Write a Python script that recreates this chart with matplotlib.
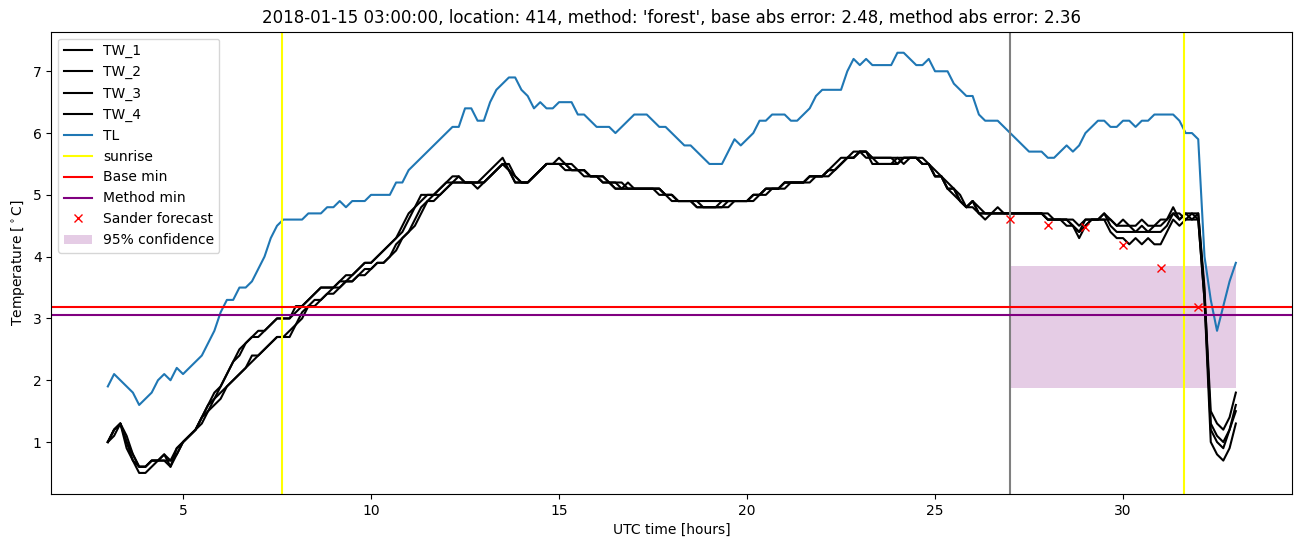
import numpy as np
import matplotlib
matplotlib.use("Agg")
import matplotlib.pyplot as plt

# time grid: 10-minute steps from 03:00 to 33:00 (hours after base date)
hours = 3 + np.arange(181) / 6.0

TL = [1.9, 2.1, 2.0, 1.9, 1.8, 1.6, 1.7, 1.8, 2.0, 2.1, 2.0, 2.2,
      2.1, 2.2, 2.3, 2.4, 2.6, 2.8, 3.1, 3.3, 3.3, 3.5, 3.5, 3.6,
      3.8, 4.0, 4.3, 4.5, 4.6, 4.6, 4.6, 4.6, 4.7, 4.7, 4.7, 4.8,
      4.8, 4.9, 4.8, 4.9, 4.9, 4.9, 5.0, 5.0, 5.0, 5.0, 5.2, 5.2,
      5.4, 5.5, 5.6, 5.7, 5.8, 5.9, 6.0, 6.1, 6.1, 6.4, 6.4, 6.2,
      6.2, 6.5, 6.7, 6.8, 6.9, 6.9, 6.7, 6.6, 6.4, 6.5, 6.4, 6.4,
      6.5, 6.5, 6.5, 6.3, 6.3, 6.2, 6.1, 6.1, 6.1, 6.0, 6.1, 6.2,
      6.3, 6.3, 6.3, 6.2, 6.1, 6.1, 6.0, 5.9, 5.8, 5.8, 5.7, 5.6,
      5.5, 5.5, 5.5, 5.7, 5.9, 5.8, 5.9, 6.0, 6.2, 6.2, 6.3, 6.3,
      6.3, 6.2, 6.2, 6.3, 6.4, 6.6, 6.7, 6.7, 6.7, 6.7, 7.0, 7.2,
      7.1, 7.2, 7.1, 7.1, 7.1, 7.1, 7.3, 7.3, 7.2, 7.1, 7.1, 7.2,
      7.0, 7.0, 7.0, 6.8, 6.7, 6.6, 6.6, 6.3, 6.2, 6.2, 6.2, 6.1,
      6.0, 5.9, 5.8, 5.7, 5.7, 5.7, 5.6, 5.6, 5.7, 5.8, 5.7, 5.8,
      6.0, 6.1, 6.2, 6.2, 6.1, 6.1, 6.2, 6.2, 6.1, 6.2, 6.2, 6.3,
      6.3, 6.3, 6.3, 6.2, 6.0, 6.0, 5.9, 4.0, 3.3, 2.8, 3.2, 3.6,
      3.9]

TW_1 = [1.0, 1.2, 1.3, 1.0, 0.8, 0.6, 0.6, 0.7, 0.7, 0.8, 0.7, 0.9,
        1.0, 1.1, 1.2, 1.4, 1.6, 1.8, 1.9, 2.1, 2.3, 2.5, 2.6, 2.7,
        2.8, 2.8, 2.9, 3.0, 3.0, 3.0, 3.2, 3.2, 3.3, 3.4, 3.5, 3.5,
        3.5, 3.6, 3.7, 3.7, 3.8, 3.9, 3.9, 4.0, 4.1, 4.2, 4.3, 4.5,
        4.7, 4.8, 5.0, 5.0, 5.0, 5.1, 5.2, 5.3, 5.3, 5.2, 5.2, 5.2,
        5.3, 5.4, 5.5, 5.6, 5.4, 5.2, 5.2, 5.2, 5.3, 5.4, 5.5, 5.5,
        5.5, 5.5, 5.5, 5.4, 5.4, 5.3, 5.3, 5.3, 5.2, 5.2, 5.2, 5.1,
        5.1, 5.1, 5.1, 5.1, 5.1, 5.0, 5.0, 4.9, 4.9, 4.9, 4.9, 4.9,
        4.9, 4.9, 4.9, 4.9, 4.9, 4.9, 4.9, 5.0, 5.0, 5.1, 5.1, 5.1,
        5.2, 5.2, 5.2, 5.2, 5.3, 5.3, 5.3, 5.4, 5.5, 5.6, 5.6, 5.7,
        5.7, 5.7, 5.6, 5.6, 5.6, 5.6, 5.6, 5.6, 5.6, 5.6, 5.5, 5.5,
        5.3, 5.3, 5.1, 5.1, 4.9, 4.8, 4.9, 4.7, 4.7, 4.7, 4.8, 4.7,
        4.7, 4.7, 4.7, 4.7, 4.7, 4.7, 4.6, 4.6, 4.6, 4.6, 4.5, 4.4,
        4.6, 4.6, 4.6, 4.7, 4.6, 4.5, 4.5, 4.5, 4.4, 4.5, 4.4, 4.5,
        4.5, 4.6, 4.8, 4.6, 4.7, 4.7, 4.7, 3.4, 1.5, 1.3, 1.2, 1.4,
        1.8]

TW_2 = [1.0, 1.2, 1.3, 1.1, 0.8, 0.6, 0.6, 0.7, 0.7, 0.8, 0.6, 0.9,
        1.0, 1.1, 1.2, 1.4, 1.6, 1.7, 1.9, 2.1, 2.3, 2.4, 2.6, 2.7,
        2.7, 2.8, 2.9, 3.0, 3.0, 3.0, 3.1, 3.2, 3.3, 3.4, 3.5, 3.5,
        3.5, 3.6, 3.6, 3.7, 3.8, 3.9, 3.9, 4.0, 4.1, 4.2, 4.3, 4.4,
        4.6, 4.8, 4.9, 5.0, 5.0, 5.1, 5.2, 5.2, 5.3, 5.2, 5.2, 5.1,
        5.2, 5.3, 5.4, 5.5, 5.5, 5.3, 5.2, 5.2, 5.3, 5.4, 5.5, 5.5,
        5.6, 5.5, 5.4, 5.4, 5.4, 5.3, 5.3, 5.2, 5.2, 5.1, 5.1, 5.2,
        5.1, 5.1, 5.1, 5.1, 5.1, 5.0, 5.0, 4.9, 4.9, 4.9, 4.9, 4.8,
        4.8, 4.8, 4.9, 4.9, 4.9, 4.9, 4.9, 5.0, 5.0, 5.1, 5.1, 5.1,
        5.2, 5.2, 5.2, 5.2, 5.3, 5.3, 5.3, 5.4, 5.4, 5.5, 5.6, 5.6,
        5.7, 5.7, 5.6, 5.6, 5.6, 5.6, 5.5, 5.6, 5.6, 5.6, 5.6, 5.5,
        5.4, 5.3, 5.2, 5.1, 5.0, 4.8, 4.9, 4.8, 4.7, 4.7, 4.7, 4.7,
        4.7, 4.7, 4.7, 4.7, 4.7, 4.7, 4.7, 4.6, 4.6, 4.6, 4.6, 4.5,
        4.6, 4.6, 4.6, 4.6, 4.6, 4.5, 4.6, 4.5, 4.5, 4.6, 4.5, 4.5,
        4.6, 4.6, 4.7, 4.7, 4.6, 4.7, 4.6, 3.3, 1.3, 1.1, 1.0, 1.2,
        1.6]

TW_3 = [1.0, 1.2, 1.3, 1.0, 0.7, 0.6, 0.6, 0.7, 0.7, 0.7, 0.7, 0.8,
        1.0, 1.1, 1.2, 1.4, 1.5, 1.7, 1.8, 1.9, 2.0, 2.1, 2.2, 2.4,
        2.4, 2.5, 2.6, 2.7, 2.7, 2.8, 2.9, 3.1, 3.2, 3.3, 3.3, 3.4,
        3.5, 3.5, 3.6, 3.6, 3.7, 3.8, 3.8, 3.9, 3.9, 4.0, 4.2, 4.3,
        4.4, 4.6, 4.8, 4.9, 5.0, 5.0, 5.1, 5.2, 5.2, 5.2, 5.2, 5.2,
        5.2, 5.3, 5.4, 5.5, 5.4, 5.3, 5.2, 5.2, 5.3, 5.4, 5.5, 5.5,
        5.5, 5.5, 5.4, 5.4, 5.4, 5.3, 5.3, 5.3, 5.2, 5.2, 5.1, 5.1,
        5.1, 5.1, 5.1, 5.1, 5.0, 5.0, 5.0, 4.9, 4.9, 4.9, 4.8, 4.8,
        4.8, 4.8, 4.8, 4.9, 4.9, 4.9, 4.9, 4.9, 5.0, 5.0, 5.1, 5.1,
        5.1, 5.2, 5.2, 5.2, 5.2, 5.3, 5.3, 5.3, 5.4, 5.5, 5.6, 5.6,
        5.7, 5.6, 5.6, 5.5, 5.5, 5.5, 5.6, 5.5, 5.6, 5.6, 5.5, 5.5,
        5.3, 5.3, 5.1, 5.0, 4.9, 4.8, 4.9, 4.7, 4.6, 4.7, 4.7, 4.7,
        4.7, 4.7, 4.7, 4.7, 4.7, 4.7, 4.6, 4.6, 4.6, 4.6, 4.5, 4.4,
        4.5, 4.6, 4.6, 4.7, 4.5, 4.4, 4.4, 4.4, 4.4, 4.4, 4.4, 4.4,
        4.4, 4.5, 4.7, 4.6, 4.7, 4.6, 4.7, 3.5, 1.2, 1.0, 0.9, 1.2,
        1.5]

TW_4 = [1.0, 1.1, 1.3, 0.9, 0.7, 0.5, 0.5, 0.6, 0.7, 0.7, 0.6, 0.8,
        1.0, 1.1, 1.2, 1.3, 1.5, 1.6, 1.7, 1.9, 2.0, 2.1, 2.2, 2.3,
        2.4, 2.5, 2.6, 2.7, 2.7, 2.7, 2.9, 3.0, 3.2, 3.2, 3.3, 3.4,
        3.4, 3.5, 3.6, 3.6, 3.7, 3.7, 3.8, 3.9, 3.9, 4.0, 4.1, 4.3,
        4.4, 4.5, 4.7, 4.9, 4.9, 5.0, 5.1, 5.2, 5.2, 5.2, 5.2, 5.2,
        5.2, 5.3, 5.4, 5.5, 5.4, 5.2, 5.2, 5.2, 5.3, 5.4, 5.5, 5.5,
        5.5, 5.4, 5.4, 5.4, 5.3, 5.3, 5.3, 5.2, 5.2, 5.1, 5.1, 5.1,
        5.1, 5.1, 5.1, 5.1, 5.1, 5.0, 4.9, 4.9, 4.9, 4.9, 4.8, 4.8,
        4.8, 4.8, 4.8, 4.8, 4.9, 4.9, 4.9, 5.0, 5.0, 5.1, 5.1, 5.1,
        5.2, 5.2, 5.2, 5.2, 5.3, 5.3, 5.3, 5.4, 5.4, 5.5, 5.6, 5.6,
        5.7, 5.7, 5.5, 5.5, 5.5, 5.5, 5.5, 5.6, 5.6, 5.6, 5.5, 5.5,
        5.3, 5.3, 5.1, 5.1, 4.9, 4.8, 4.8, 4.7, 4.7, 4.7, 4.7, 4.7,
        4.7, 4.7, 4.7, 4.7, 4.7, 4.7, 4.6, 4.6, 4.6, 4.5, 4.5, 4.3,
        4.5, 4.6, 4.6, 4.6, 4.4, 4.3, 4.3, 4.2, 4.3, 4.2, 4.3, 4.2,
        4.2, 4.4, 4.6, 4.5, 4.6, 4.6, 4.6, 3.3, 1.0, 0.8, 0.7, 0.9,
        1.3]

sunrise_hours = [7.63, 31.62]
forecast_start = 27.0
base_min = 3.18
method_min = 3.05
sander_hours = [27, 28, 29, 30, 31, 32]
sander_values = [4.61, 4.51, 4.48, 4.19, 3.82, 3.18]
conf_hours = [27.0, 33.0]
conf_low = 1.87
conf_high = 3.85

title = ("2018-01-15 03:00:00, location: 414, method: 'forest', "
         "base abs error: 2.48, method abs error: 2.36")

fig = plt.figure(figsize=(13.02, 5.47), dpi=100)
ax = fig.add_axes([0.0395, 0.097, 0.953, 0.845])

for name, series in [("TW_1", TW_1), ("TW_2", TW_2), ("TW_3", TW_3), ("TW_4", TW_4)]:
    ax.plot(hours, series, color="black", label=name)
ax.plot(hours, TL, color="tab:blue", label="TL")
for k, s in enumerate(sunrise_hours):
    ax.axvline(s, color="yellow", label="sunrise" if k == 0 else None)
ax.axvline(forecast_start, color="grey")
ax.axhline(base_min, color="red", label="Base min")
ax.axhline(method_min, color="purple", label="Method min")
ax.plot(sander_hours, sander_values, "x", color="red", label="Sander forecast")
ax.fill_between(conf_hours, [conf_low] * 2, [conf_high] * 2, color="purple",
                alpha=0.2, linewidth=0, label="95% confidence")

ax.set_title(title)
ax.set_xlabel("UTC time [hours]")
ax.set_ylabel(r"Temperature [$^\circ$C]")
ax.legend(loc="upper left")

fig.savefig("out.png", dpi=100)
